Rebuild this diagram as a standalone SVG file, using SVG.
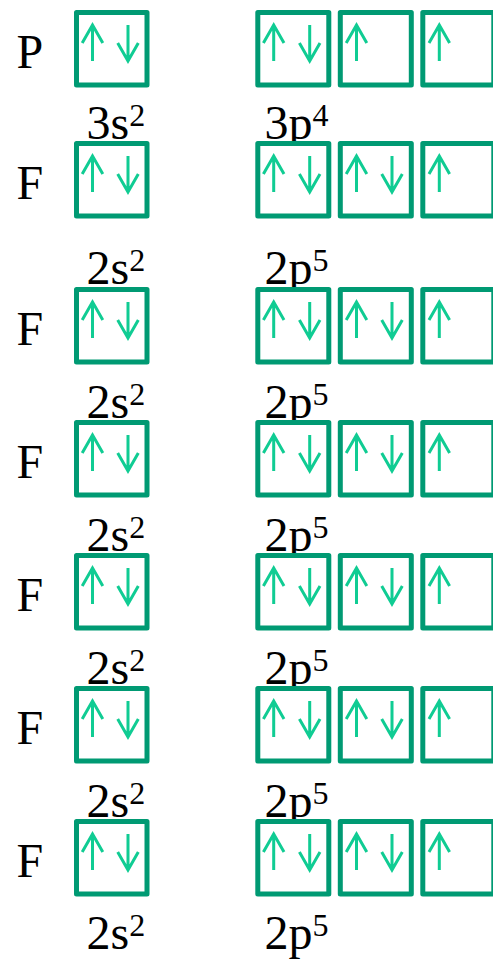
<svg xmlns="http://www.w3.org/2000/svg" xmlns:xlink="http://www.w3.org/1999/xlink" width="493" height="962" viewBox="0 0 493 962">
<style>
.box{fill:#ffffff;stroke:#009a73;stroke-width:5;stroke-linejoin:round}
.arr{fill:none;stroke:#10cc93;stroke-width:3;stroke-linecap:butt;stroke-linejoin:miter}
.el{font-family:"Liberation Serif","Times New Roman",serif;font-size:48px;fill:#000}
.lbl{font-family:"Liberation Serif","Times New Roman",serif;font-size:48px;fill:#000}
.sup{font-size:32px}
</style>
<defs>
<path id="up" class="arr" d="M0,15 V51 M-10.3,33 L0,15 L10.3,33"/>
<path id="dn" class="arr" d="M0,15 V51 M-10.3,33 L0,51 L10.3,33"/>
</defs>
<rect width="493" height="962" fill="#ffffff"/>

<g id="row-P" transform="translate(0,10)">
<text class="el" x="16.5" y="58">P</text>
<rect class="box" x="76.5" y="2.5" width="70.5" height="72.5"/>
<use xlink:href="#up" x="92.5"/><use xlink:href="#dn" x="128"/>
<rect class="box" x="257.8" y="2.5" width="71" height="72.5"/>
<use xlink:href="#up" x="273.7"/><use xlink:href="#dn" x="309.7"/>
<rect class="box" x="340.3" y="2.5" width="71" height="72.5"/>
<use xlink:href="#up" x="356.5"/>
<rect class="box" x="422.8" y="2.5" width="71" height="72.5"/>
<use xlink:href="#up" x="439.3"/>
</g>
<g id="label-P">
<text class="lbl" x="86.5" y="139">3s<tspan class="sup" dy="-13">2</tspan></text>
<text class="lbl" x="264.5" y="139">3p<tspan class="sup" dy="-13">4</tspan></text>
</g>

<g id="row-F1" transform="translate(0,141)">
<text class="el" x="16.5" y="58">F</text>
<rect class="box" x="76.5" y="2.5" width="70.5" height="72.5"/>
<use xlink:href="#up" x="92.5"/><use xlink:href="#dn" x="128"/>
<rect class="box" x="257.8" y="2.5" width="71" height="72.5"/>
<use xlink:href="#up" x="273.7"/><use xlink:href="#dn" x="309.7"/>
<rect class="box" x="340.3" y="2.5" width="71" height="72.5"/>
<use xlink:href="#up" x="356.5"/><use xlink:href="#dn" x="392"/>
<rect class="box" x="422.8" y="2.5" width="71" height="72.5"/>
<use xlink:href="#up" x="439.3"/>
</g>
<g id="label-F1">
<text class="lbl" x="86.5" y="284">2s<tspan class="sup" dy="-13">2</tspan></text>
<text class="lbl" x="264.5" y="284">2p<tspan class="sup" dy="-13">5</tspan></text>
</g>

<g id="row-F2" transform="translate(0,287)">
<text class="el" x="16.5" y="58">F</text>
<rect class="box" x="76.5" y="2.5" width="70.5" height="72.5"/>
<use xlink:href="#up" x="92.5"/><use xlink:href="#dn" x="128"/>
<rect class="box" x="257.8" y="2.5" width="71" height="72.5"/>
<use xlink:href="#up" x="273.7"/><use xlink:href="#dn" x="309.7"/>
<rect class="box" x="340.3" y="2.5" width="71" height="72.5"/>
<use xlink:href="#up" x="356.5"/><use xlink:href="#dn" x="392"/>
<rect class="box" x="422.8" y="2.5" width="71" height="72.5"/>
<use xlink:href="#up" x="439.3"/>
</g>
<g id="label-F2">
<text class="lbl" x="86.5" y="418">2s<tspan class="sup" dy="-13">2</tspan></text>
<text class="lbl" x="264.5" y="418">2p<tspan class="sup" dy="-13">5</tspan></text>
</g>

<g id="row-F3" transform="translate(0,420)">
<text class="el" x="16.5" y="58">F</text>
<rect class="box" x="76.5" y="2.5" width="70.5" height="72.5"/>
<use xlink:href="#up" x="92.5"/><use xlink:href="#dn" x="128"/>
<rect class="box" x="257.8" y="2.5" width="71" height="72.5"/>
<use xlink:href="#up" x="273.7"/><use xlink:href="#dn" x="309.7"/>
<rect class="box" x="340.3" y="2.5" width="71" height="72.5"/>
<use xlink:href="#up" x="356.5"/><use xlink:href="#dn" x="392"/>
<rect class="box" x="422.8" y="2.5" width="71" height="72.5"/>
<use xlink:href="#up" x="439.3"/>
</g>
<g id="label-F3">
<text class="lbl" x="86.5" y="551">2s<tspan class="sup" dy="-13">2</tspan></text>
<text class="lbl" x="264.5" y="551">2p<tspan class="sup" dy="-13">5</tspan></text>
</g>

<g id="row-F4" transform="translate(0,553)">
<text class="el" x="16.5" y="58">F</text>
<rect class="box" x="76.5" y="2.5" width="70.5" height="72.5"/>
<use xlink:href="#up" x="92.5"/><use xlink:href="#dn" x="128"/>
<rect class="box" x="257.8" y="2.5" width="71" height="72.5"/>
<use xlink:href="#up" x="273.7"/><use xlink:href="#dn" x="309.7"/>
<rect class="box" x="340.3" y="2.5" width="71" height="72.5"/>
<use xlink:href="#up" x="356.5"/><use xlink:href="#dn" x="392"/>
<rect class="box" x="422.8" y="2.5" width="71" height="72.5"/>
<use xlink:href="#up" x="439.3"/>
</g>
<g id="label-F4">
<text class="lbl" x="86.5" y="684">2s<tspan class="sup" dy="-13">2</tspan></text>
<text class="lbl" x="264.5" y="684">2p<tspan class="sup" dy="-13">5</tspan></text>
</g>

<g id="row-F5" transform="translate(0,686)">
<text class="el" x="16.5" y="58">F</text>
<rect class="box" x="76.5" y="2.5" width="70.5" height="72.5"/>
<use xlink:href="#up" x="92.5"/><use xlink:href="#dn" x="128"/>
<rect class="box" x="257.8" y="2.5" width="71" height="72.5"/>
<use xlink:href="#up" x="273.7"/><use xlink:href="#dn" x="309.7"/>
<rect class="box" x="340.3" y="2.5" width="71" height="72.5"/>
<use xlink:href="#up" x="356.5"/><use xlink:href="#dn" x="392"/>
<rect class="box" x="422.8" y="2.5" width="71" height="72.5"/>
<use xlink:href="#up" x="439.3"/>
</g>
<g id="label-F5">
<text class="lbl" x="86.5" y="817">2s<tspan class="sup" dy="-13">2</tspan></text>
<text class="lbl" x="264.5" y="817">2p<tspan class="sup" dy="-13">5</tspan></text>
</g>

<g id="row-F6" transform="translate(0,819)">
<text class="el" x="16.5" y="58">F</text>
<rect class="box" x="76.5" y="2.5" width="70.5" height="72.5"/>
<use xlink:href="#up" x="92.5"/><use xlink:href="#dn" x="128"/>
<rect class="box" x="257.8" y="2.5" width="71" height="72.5"/>
<use xlink:href="#up" x="273.7"/><use xlink:href="#dn" x="309.7"/>
<rect class="box" x="340.3" y="2.5" width="71" height="72.5"/>
<use xlink:href="#up" x="356.5"/><use xlink:href="#dn" x="392"/>
<rect class="box" x="422.8" y="2.5" width="71" height="72.5"/>
<use xlink:href="#up" x="439.3"/>
</g>
<g id="label-F6">
<text class="lbl" x="86.5" y="949">2s<tspan class="sup" dy="-13">2</tspan></text>
<text class="lbl" x="264.5" y="949">2p<tspan class="sup" dy="-13">5</tspan></text>
</g>
</svg>
